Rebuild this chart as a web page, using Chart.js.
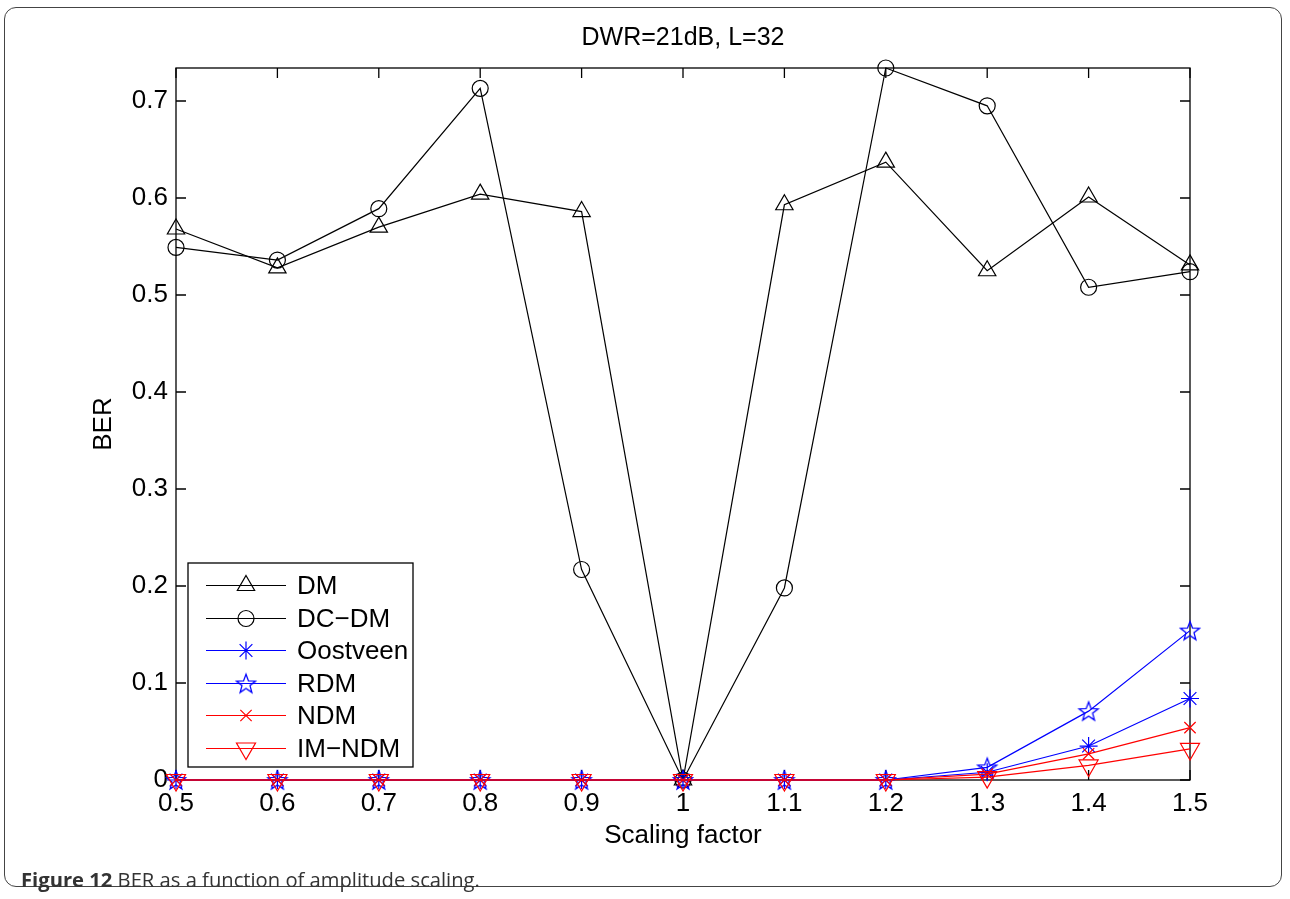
<!DOCTYPE html>
<html>
<head>
<meta charset="utf-8">
<script src="https://cdn.jsdelivr.net/npm/chart.js@4/dist/chart.umd.min.js"></script>
<style>
  html, body { margin: 0; padding: 0; background: #fff; }
  #wrap { position: relative; width: 1290px; height: 899px; overflow: hidden; }
  #frame { position: absolute; left: 4px; top: 7px; width: 1278px; height: 880px;
    border: 1.5px solid #444; border-radius: 12px; box-sizing: border-box; }
  #c { position: absolute; left: 0; top: 0; }
  #caption { position: absolute; left: 21px; top: 865px; font: 20.2px "Open Sans", sans-serif; color: #333; }
  #caption b { color: #333; font-weight: 700; }
</style>
</head>
<body>
<div id="wrap">
  <div id="frame"></div>
  <canvas id="c" width="1290" height="899"></canvas>
  <div id="caption"><b>Figure 12</b> BER as a function of amplitude scaling.</div>
</div>
<script>
const scaling = [0.5, 0.6, 0.7, 0.8, 0.9, 1.0, 1.1, 1.2, 1.3, 1.4, 1.5];
const dm      = [0.568, 0.528, 0.570, 0.604, 0.586, 0, 0.593, 0.637, 0.525, 0.601, 0.531];
const dcdm    = [0.549, 0.536, 0.589, 0.713, 0.217, 0, 0.198, 0.734, 0.695, 0.508, 0.524];
const oostveen = [0, 0, 0, 0, 0, 0, 0, 0, 0.008, 0.035, 0.084];
const rdm     = [0, 0, 0, 0, 0, 0, 0, 0, 0.013, 0.071, 0.154];
const ndm     = [0, 0, 0, 0, 0, 0, 0, 0, 0.006, 0.027, 0.054];
const imndm   = [0, 0, 0, 0, 0, 0, 0, 0, 0.003, 0.015, 0.032];
const xTicks = [0.5, 0.6, 0.7, 0.8, 0.9, 1, 1.1, 1.2, 1.3, 1.4, 1.5];
const yTicks = [0, 0.1, 0.2, 0.3, 0.4, 0.5, 0.6, 0.7];
const yMax = 0.734;

const BLUE = '#0000ff', RED = '#ff0000', BLACK = '#000000';
const FONT = '"Liberation Sans", Arial, sans-serif';

// 5-point open star marker (no built-in style for it)
function starImage(color, r) {
  const s = Math.ceil(r * 2 + 4);
  const cv = document.createElement('canvas');
  cv.width = s; cv.height = s;
  const g = cv.getContext('2d');
  g.strokeStyle = color; g.lineWidth = 1.3;
  g.beginPath();
  for (let i = 0; i < 10; i++) {
    const rr = i % 2 === 0 ? r : r * 0.42;
    const a = -Math.PI / 2 + i * Math.PI / 5;
    const x = s / 2 + rr * Math.cos(a), y = s / 2 + rr * Math.sin(a) + 0.8;
    if (i === 0) g.moveTo(x, y); else g.lineTo(x, y);
  }
  g.closePath(); g.stroke();
  return cv;
}
const star = starImage(BLUE, 10);

function series(label, values, color, style, radius, order, rotation) {
  return {
    label, order,
    data: scaling.map((x, i) => ({ x, y: values[i] })),
    borderColor: color, borderWidth: 1.2,
    pointStyle: style, pointRadius: radius, pointRotation: rotation || 0,
    pointBorderColor: color, pointBackgroundColor: 'rgba(0,0,0,0)',
    pointBorderWidth: 1.2, pointHoverRadius: radius,
    tension: 0, clip: false
  };
}

const datasets = [
  series('DM', dm, BLACK, 'triangle', 10, 6),
  series('DC\u2212DM', dcdm, BLACK, 'circle', 8, 5),
  series('Oostveen', oostveen, BLUE, 'star', 9, 4),
  series('RDM', rdm, BLUE, star, 10, 3),
  series('NDM', ndm, RED, 'crossRot', 8, 2),
  series('IM\u2212NDM', imndm, RED, 'triangle', 11, 1, 180)
];
const legendColors = [BLACK, BLACK, BLUE, BLUE, RED, RED];

const matlabAxes = {
  id: 'matlabAxes',
  beforeDatasetsDraw(chart) {
    const { ctx, chartArea: a, scales } = chart;
    ctx.save();
    ctx.strokeStyle = '#000'; ctx.lineWidth = 1.3;
    ctx.strokeRect(a.left, a.top, a.right - a.left, a.bottom - a.top);
    const t = 10;
    ctx.beginPath();
    xTicks.forEach(v => {
      const x = scales.x.getPixelForValue(v);
      ctx.moveTo(x, a.bottom); ctx.lineTo(x, a.bottom - t);
      ctx.moveTo(x, a.top); ctx.lineTo(x, a.top + t);
    });
    yTicks.forEach(v => {
      const y = scales.y.getPixelForValue(v);
      ctx.moveTo(a.left, y); ctx.lineTo(a.left + t, y);
      ctx.moveTo(a.right, y); ctx.lineTo(a.right - t, y);
    });
    ctx.stroke();
    ctx.restore();
  },
  afterDraw(chart) {
    // legend box inside the plot, MATLAB style
    const { ctx } = chart;
    const bx = 188, by = 563, bw = 225, bh = 204;
    ctx.save();
    ctx.fillStyle = '#fff';
    ctx.fillRect(bx, by, bw, bh);
    ctx.strokeStyle = '#000'; ctx.lineWidth = 1.3;
    ctx.strokeRect(bx, by, bw, bh);
    ctx.font = '26px ' + FONT;
    ctx.textBaseline = 'middle';
    chart.data.datasets.forEach((ds, i) => {
      const y = Math.round(by + 22 + i * 32.5) + 0.5;
      const col = legendColors[i];
      ctx.save();
      ctx.strokeStyle = col; ctx.lineWidth = 1.2;
      ctx.beginPath(); ctx.moveTo(206, y); ctx.lineTo(286, y); ctx.stroke();
      ctx.strokeStyle = col;
      ctx.fillStyle = 'rgba(0,0,0,0)';
      Chart.helpers.drawPoint(ctx, {
        pointStyle: ds.pointStyle, rotation: ds.pointRotation, radius: ds.pointRadius,
        borderWidth: 1.2
      }, 246, y);
      ctx.restore();
      ctx.fillStyle = '#000';
      ctx.fillText(ds.label, 297, y + 1);
    });
    ctx.restore();
  }
};

new Chart(document.getElementById('c'), {
  type: 'line',
  data: { datasets },
  options: {
    responsive: false, animation: false, events: [],
    layout: { padding: { left: 80, right: 100, top: 6, bottom: 39 } },
    plugins: {
      legend: { display: false }, tooltip: { enabled: false },
      title: {
        display: true, text: 'DWR=21dB, L=32', color: '#000', fullSize: false,
        font: { family: FONT, size: 25, weight: 'normal' },
        padding: { top: 17, bottom: 15 }
      }
    },
    scales: {
      x: {
        type: 'linear', min: 0.5, max: 1.5,
        afterBuildTicks: s => { s.ticks = xTicks.map(v => ({ value: v })); },
        afterFit: s => { s.height = 80; },
        grid: { display: false, drawTicks: false },
        border: { display: false },
        ticks: {
          color: '#000', padding: 8, maxRotation: 0, autoSkip: false,
          font: { family: FONT, size: 26 },
          callback: v => String(+v.toFixed(1))
        },
        title: {
          display: true, text: 'Scaling factor', color: '#000',
          font: { family: FONT, size: 26 },
          padding: { top: 0, bottom: 9 }
        }
      },
      y: {
        min: 0, max: yMax,
        afterBuildTicks: s => { s.ticks = yTicks.map(v => ({ value: v })); },
        afterFit: s => { s.width = 96; },
        grid: { display: false, drawTicks: false },
        border: { display: false },
        ticks: {
          color: '#000', padding: 8,
          font: { family: FONT, size: 26 },
          callback: v => String(+v.toFixed(1))
        },
        title: {
          display: true, text: 'BER', color: '#000',
          font: { family: FONT, size: 26 },
          padding: { top: 8, bottom: 0 }
        }
      }
    }
  },
  plugins: [matlabAxes]
});
</script>
</body>
</html>
